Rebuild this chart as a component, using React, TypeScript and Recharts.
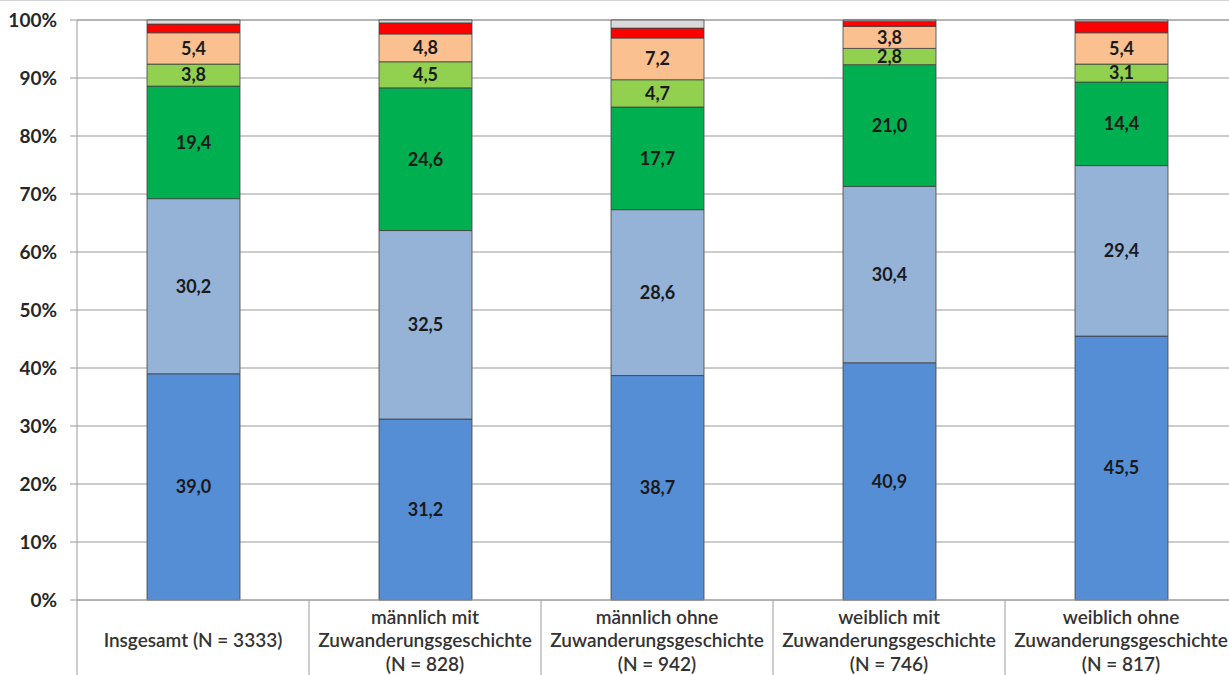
import { BarChart, Bar, XAxis, YAxis, CartesianGrid, LabelList } from "recharts";

// Categories, each label split into its lines
const groups = [
  ["Insgesamt (N = 3333)"],
  ["männlich mit", "Zuwanderungsgeschichte", "(N = 828)"],
  ["männlich ohne", "Zuwanderungsgeschichte", "(N = 942)"],
  ["weiblich mit", "Zuwanderungsgeschichte", "(N = 746)"],
  ["weiblich ohne", "Zuwanderungsgeschichte", "(N = 817)"],
];

// Shares in percent, bottom segment first
const s1 = [39.0, 31.2, 38.7, 40.9, 45.5];
const s2 = [30.2, 32.5, 28.6, 30.4, 29.4];
const s3 = [19.4, 24.6, 17.7, 21.0, 14.4];
const s4 = [3.8, 4.5, 4.7, 2.8, 3.1];
const s5 = [5.4, 4.8, 7.2, 3.8, 5.4];
const s6 = [1.5, 1.9, 1.7, 0.9, 1.9];
const s7 = [0.7, 0.5, 1.4, 0.2, 0.3];

const yTicks = [0, 10, 20, 30, 40, 50, 60, 70, 80, 90, 100];

const data = groups.map((g, i) => ({
  name: g.join(" "),
  lines: g,
  s1: s1[i],
  s2: s2[i],
  s3: s3[i],
  s4: s4[i],
  s5: s5[i],
  s6: s6[i],
  s7: s7[i],
}));

const FONT = "Lato, 'Open Sans', sans-serif";
const W = 1240;
const H = 674;
const Y_W = 77;
const M_RIGHT = 3;
const BAND = (W - Y_W - M_RIGHT) / groups.length;

const fmt = (v: number) => v.toFixed(1).replace(".", ",");

const CategoryTick = ({ x, y, index }: any) => {
  const lines: string[] = data[index]?.lines ?? [];
  const mid = lines.length === 1 ? [47] : [24, 47, 71];
  return (
    <g>
      <line x1={x - BAND / 2} y1={y} x2={x - BAND / 2} y2={y + 80} stroke="#9a9a9a" />
      {index === groups.length - 1 && (
        <line x1={x + BAND / 2} y1={y} x2={x + BAND / 2} y2={y + 80} stroke="#9a9a9a" />
      )}
      {lines.map((t, k) => (
        <text
          key={k}
          x={x}
          y={y + mid[k]}
          textAnchor="middle"
          fontFamily={FONT}
          fontSize={19}
          fontWeight={600}
          fill="#333"
        >
          {t}
        </text>
      ))}
    </g>
  );
};

const bars = [
  { key: "s1", color: "#558ED5", label: true },
  { key: "s2", color: "#95B3D7", label: true },
  { key: "s3", color: "#00B050", label: true },
  { key: "s4", color: "#92D050", label: true },
  { key: "s5", color: "#FAC090", label: true },
  { key: "s6", color: "#FF0000", label: false },
  { key: "s7", color: "#D9D9D9", label: false },
];

const App = () => (
  <div style={{ position: "fixed", left: 0, top: 0, borderTop: "1px solid #d4d4d4", background: "#fff" }}>
    <BarChart
      width={W}
      height={H}
      data={data}
      margin={{ top: 19, right: M_RIGHT, left: 0, bottom: 0 }}
      barSize={93}
    >
      <CartesianGrid vertical={false} stroke="#9a9a9a" />
      <YAxis
        width={Y_W}
        domain={[0, 100]}
        ticks={yTicks}
        tickFormatter={(v: number) => `${v}%`}
        interval={0}
        axisLine={{ stroke: "#9a9a9a" }}
        tickLine={{ stroke: "#9a9a9a" }}
        tickSize={7}
        tickMargin={13}
        tick={{ fontFamily: FONT, fontSize: 19, fontWeight: 700, fill: "#262626" }}
      />
      <XAxis
        dataKey="name"
        height={75}
        interval={0}
        axisLine={{ stroke: "#9a9a9a" }}
        tickLine={false}
        tickSize={0}
        tickMargin={0}
        tick={<CategoryTick />}
      />
      {bars.map((b) => (
        <Bar
          key={b.key}
          dataKey={b.key}
          stackId="a"
          fill={b.color}
          stroke="#404040"
          strokeWidth={0.8}
          isAnimationActive={false}
        >
          {b.label && (
            <LabelList
              dataKey={b.key}
              position="center"
              formatter={(v: any) => fmt(Number(v))}
              fill="#1a1a1a"
              fontFamily={FONT}
              fontSize={18}
              fontWeight={700}
            />
          )}
        </Bar>
      ))}
    </BarChart>
  </div>
);

export default App;
